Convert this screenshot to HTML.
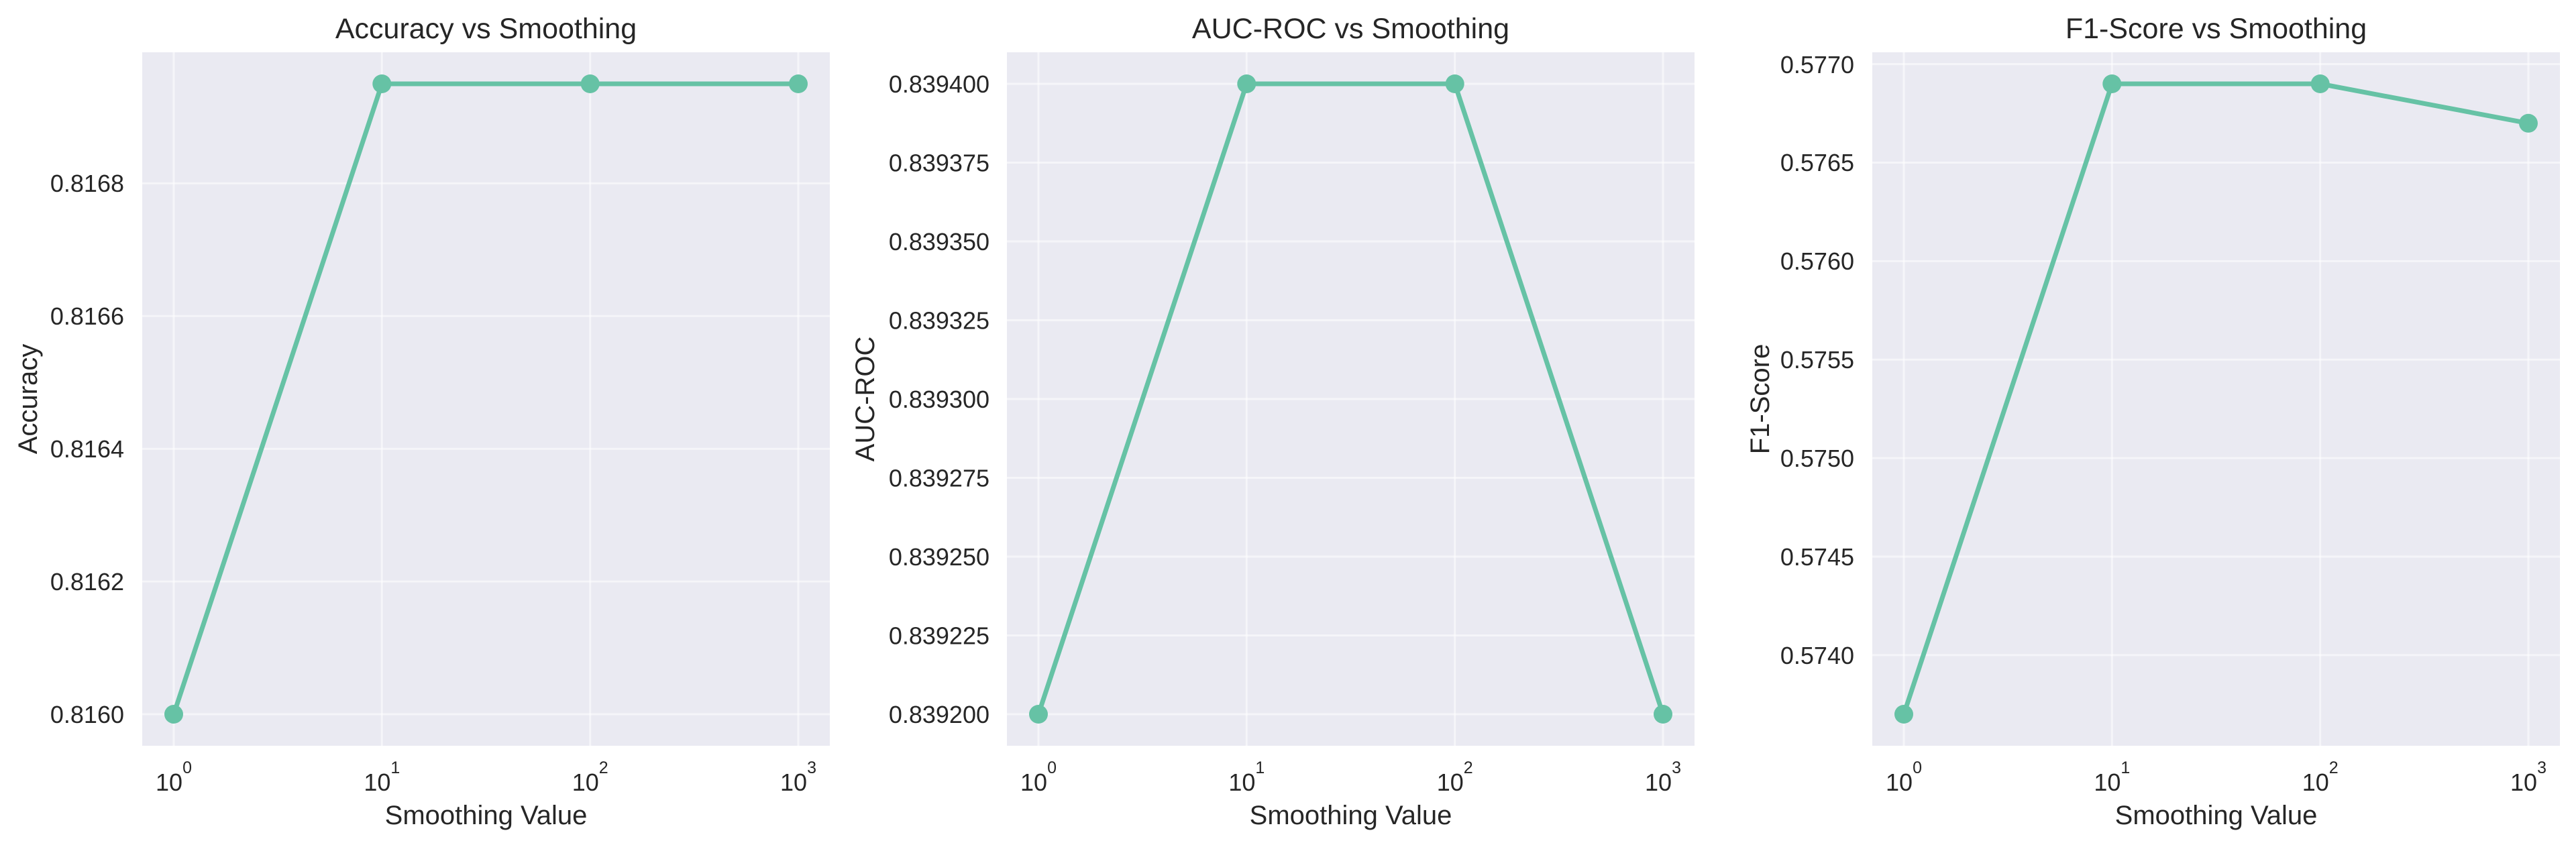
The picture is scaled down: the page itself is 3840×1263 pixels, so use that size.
<!DOCTYPE html>
<html><head><meta charset="utf-8"><style>
html,body{margin:0;padding:0;background:#fff;}
svg{display:block;}
text{font-family:"Liberation Sans",Arial,sans-serif;fill:#262626;}
.tk{font-size:36px;}
.sup{font-size:25px;}
.lb{font-size:40px;}
.tt{font-size:43px;}
.grid{stroke:#ffffff;stroke-width:3;stroke-opacity:0.5;}
.ln{stroke:#66c2a5;stroke-width:7;fill:none;stroke-linejoin:round;}
.mk{fill:#66c2a5;}
</style></head><body>
<svg width="3840" height="1263" viewBox="0 0 3840 1263" xmlns="http://www.w3.org/2000/svg">
<rect width="3840" height="1263" fill="#fff"/>

<!-- Panel 1 -->
<g>
<rect x="212" y="78" width="1025" height="1034" fill="#eaeaf2"/>
<g class="grid">
<line x1="259" y1="78" x2="259" y2="1112"/><line x1="569.3" y1="78" x2="569.3" y2="1112"/><line x1="879.7" y1="78" x2="879.7" y2="1112"/><line x1="1190" y1="78" x2="1190" y2="1112"/>
<line x1="212" y1="1065" x2="1237" y2="1065"/><line x1="212" y1="867.1" x2="1237" y2="867.1"/><line x1="212" y1="669.2" x2="1237" y2="669.2"/><line x1="212" y1="471.3" x2="1237" y2="471.3"/><line x1="212" y1="273.4" x2="1237" y2="273.4"/>
</g>
<g class="tk" text-anchor="end">
<text x="185" y="1078">0.8160</text><text x="185" y="880">0.8162</text><text x="185" y="682">0.8164</text><text x="185" y="484">0.8166</text><text x="185" y="286">0.8168</text>
</g>
<polyline class="ln" points="259,1065 569.3,125 879.7,125 1190,125"/>
<circle class="mk" cx="259" cy="1065" r="14"/><circle class="mk" cx="569.3" cy="125" r="14"/><circle class="mk" cx="879.7" cy="125" r="14"/><circle class="mk" cx="1190" cy="125" r="14"/>
<text class="tt" x="724.5" y="57" text-anchor="middle">Accuracy vs Smoothing</text>
<text class="lb" x="724.5" y="1229" text-anchor="middle">Smoothing Value</text>
<text class="lb" transform="translate(55,595) rotate(-90)" text-anchor="middle">Accuracy</text>
</g>

<!-- Panel 2 -->
<g>
<rect x="1501" y="78" width="1025" height="1034" fill="#eaeaf2"/>
<g class="grid">
<line x1="1548" y1="78" x2="1548" y2="1112"/><line x1="1858.3" y1="78" x2="1858.3" y2="1112"/><line x1="2168.7" y1="78" x2="2168.7" y2="1112"/><line x1="2479" y1="78" x2="2479" y2="1112"/>
<line x1="1501" y1="1065" x2="2526" y2="1065"/><line x1="1501" y1="947.5" x2="2526" y2="947.5"/><line x1="1501" y1="830" x2="2526" y2="830"/><line x1="1501" y1="712.5" x2="2526" y2="712.5"/><line x1="1501" y1="595" x2="2526" y2="595"/><line x1="1501" y1="477.5" x2="2526" y2="477.5"/><line x1="1501" y1="360" x2="2526" y2="360"/><line x1="1501" y1="242.5" x2="2526" y2="242.5"/><line x1="1501" y1="125" x2="2526" y2="125"/>
</g>
<g class="tk" text-anchor="end">
<text x="1475" y="1078">0.839200</text><text x="1475" y="960.5">0.839225</text><text x="1475" y="843">0.839250</text><text x="1475" y="725.5">0.839275</text><text x="1475" y="608">0.839300</text><text x="1475" y="490.5">0.839325</text><text x="1475" y="373">0.839350</text><text x="1475" y="255.5">0.839375</text><text x="1475" y="138">0.839400</text>
</g>
<polyline class="ln" points="1548,1065 1858.3,125 2168.7,125 2479,1065"/>
<circle class="mk" cx="1548" cy="1065" r="14"/><circle class="mk" cx="1858.3" cy="125" r="14"/><circle class="mk" cx="2168.7" cy="125" r="14"/><circle class="mk" cx="2479" cy="1065" r="14"/>
<text class="tt" x="2013.5" y="57" text-anchor="middle">AUC-ROC vs Smoothing</text>
<text class="lb" x="2013.5" y="1229" text-anchor="middle">Smoothing Value</text>
<text class="lb" transform="translate(1303,595) rotate(-90)" text-anchor="middle">AUC-ROC</text>
</g>

<!-- Panel 3 -->
<g>
<rect x="2791" y="78" width="1025" height="1034" fill="#eaeaf2"/>
<g class="grid">
<line x1="2838" y1="78" x2="2838" y2="1112"/><line x1="3148.3" y1="78" x2="3148.3" y2="1112"/><line x1="3458.7" y1="78" x2="3458.7" y2="1112"/><line x1="3769" y1="78" x2="3769" y2="1112"/>
<line x1="2791" y1="976.9" x2="3816" y2="976.9"/><line x1="2791" y1="830" x2="3816" y2="830"/><line x1="2791" y1="683.1" x2="3816" y2="683.1"/><line x1="2791" y1="536.3" x2="3816" y2="536.3"/><line x1="2791" y1="389.4" x2="3816" y2="389.4"/><line x1="2791" y1="242.5" x2="3816" y2="242.5"/><line x1="2791" y1="95.6" x2="3816" y2="95.6"/>
</g>
<g class="tk" text-anchor="end">
<text x="2764" y="990">0.5740</text><text x="2764" y="843">0.5745</text><text x="2764" y="696">0.5750</text><text x="2764" y="549">0.5755</text><text x="2764" y="402">0.5760</text><text x="2764" y="255">0.5765</text><text x="2764" y="109">0.5770</text>
</g>
<polyline class="ln" points="2838,1065 3148.3,125 3458.7,125 3769,183.8"/>
<circle class="mk" cx="2838" cy="1065" r="14"/><circle class="mk" cx="3148.3" cy="125" r="14"/><circle class="mk" cx="3458.7" cy="125" r="14"/><circle class="mk" cx="3769" cy="183.8" r="14"/>
<text class="tt" x="3303.5" y="57" text-anchor="middle">F1-Score vs Smoothing</text>
<text class="lb" x="3303.5" y="1229" text-anchor="middle">Smoothing Value</text>
<text class="lb" transform="translate(2637,595) rotate(-90)" text-anchor="middle">F1-Score</text>
</g>

<!-- x tick labels -->
<g class="tk">
<text x="259" y="1179" text-anchor="middle">10<tspan class="sup" dy="-26">0</tspan></text>
<text x="569.3" y="1179" text-anchor="middle">10<tspan class="sup" dy="-26">1</tspan></text>
<text x="879.7" y="1179" text-anchor="middle">10<tspan class="sup" dy="-26">2</tspan></text>
<text x="1190" y="1179" text-anchor="middle">10<tspan class="sup" dy="-26">3</tspan></text>
<text x="1548" y="1179" text-anchor="middle">10<tspan class="sup" dy="-26">0</tspan></text>
<text x="1858.3" y="1179" text-anchor="middle">10<tspan class="sup" dy="-26">1</tspan></text>
<text x="2168.7" y="1179" text-anchor="middle">10<tspan class="sup" dy="-26">2</tspan></text>
<text x="2479" y="1179" text-anchor="middle">10<tspan class="sup" dy="-26">3</tspan></text>
<text x="2838" y="1179" text-anchor="middle">10<tspan class="sup" dy="-26">0</tspan></text>
<text x="3148.3" y="1179" text-anchor="middle">10<tspan class="sup" dy="-26">1</tspan></text>
<text x="3458.7" y="1179" text-anchor="middle">10<tspan class="sup" dy="-26">2</tspan></text>
<text x="3769" y="1179" text-anchor="middle">10<tspan class="sup" dy="-26">3</tspan></text>
</g>
</svg>
</body></html>
